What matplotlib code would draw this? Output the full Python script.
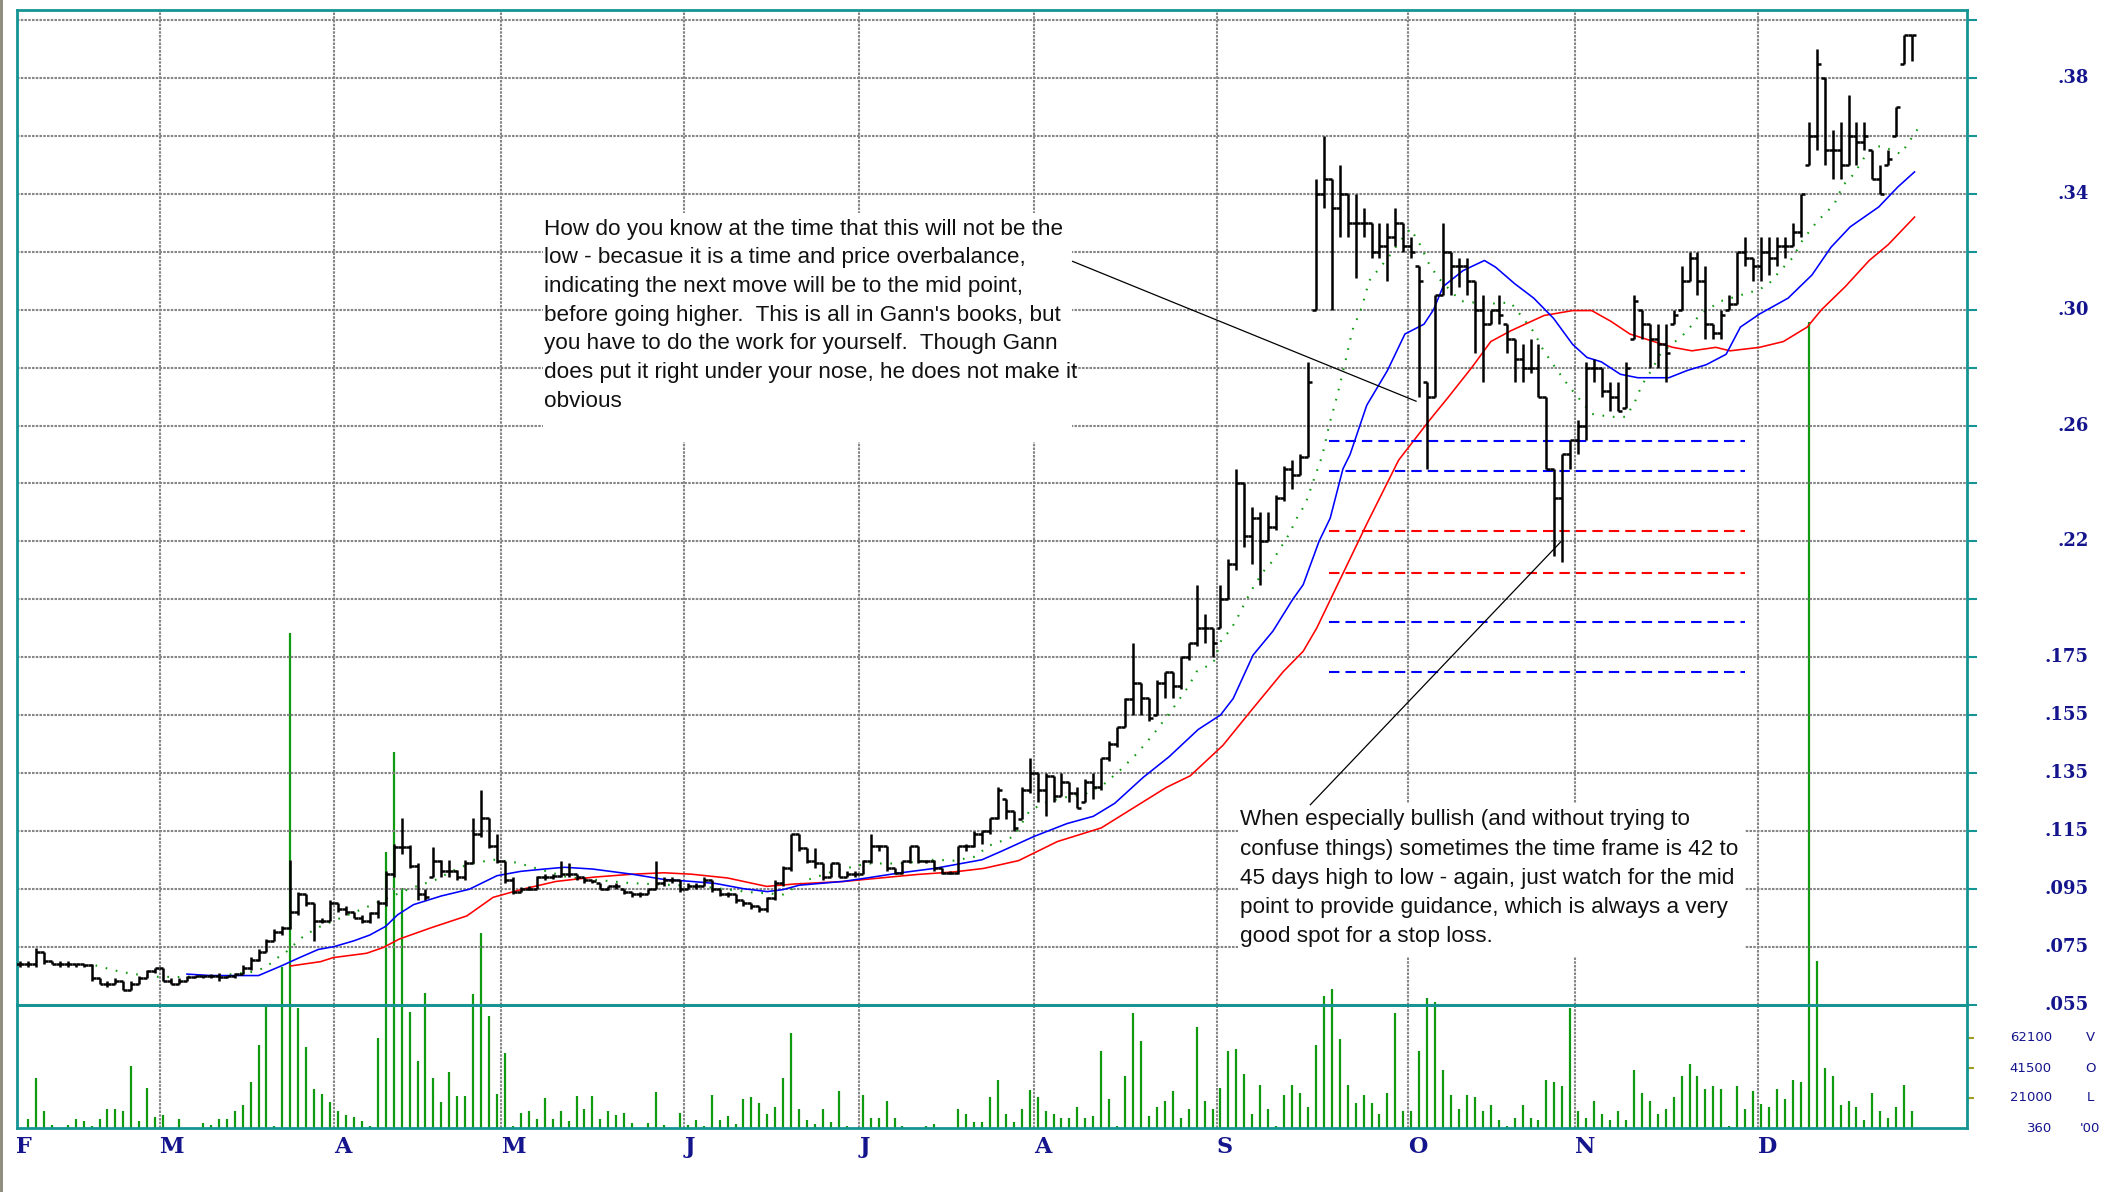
import numpy as np
import matplotlib
matplotlib.use("Agg")
import matplotlib.pyplot as plt
from matplotlib.collections import LineCollection
from matplotlib.patches import Rectangle
from matplotlib.transforms import blended_transform_factory

# ---- daily bars, Feb..Dec (price in $, one entry per trading day) ----
bar_high = [
    .075, .075, .0795, .078, .075, .075, .075, .074, .074, .074,
    .069, .068, .069, .068, .068, .070, .072, .0725, .0725, .069,
    .069, .070, .070, .070, .0705, .071, .070, .071, .0735, .0765,
    .079, .0825, .086, .087, .110, .099, .098, .095, .090, .096,
    .095, .094, .092, .091, .092, .096, .106, .1155, .1245, .115,
    .109, .100, .1145, .110, .110, .1065, .110, .1245, .134, .1245,
    .119, .1095, .104, .1005, .101, .1045, .105, .105, .1095, .109,
    .105, .104, .103, .102, .101, .102, .100, .099, .099, .100,
    .1095, .104, .104, .103, .102, .102, .104, .103, .100, .099,
    .098, .096, .095, .094, .097, .103, .108, .119, .119, .114,
    .114, .109, .109, .109, .106, .106, .110, .119, .115, .1147,
    .107, .1095, .1147, .1147, .110, .110, .107, .106, .1147, .1155,
    .120, .120, .1245, .135, .131, .127, .135, .145, .140, .140,
    .139, .140, .137, .135, .138, .140, .145, .151, .156, .166,
    .185, .171, .166, .172, .175, .175, .180, .185, .205, .195,
    .190, .205, .214, .245, .240, .232, .230, .230, .236, .246,
    .248, .250, .282, .345, .360, .345, .350, .340, .340, .335,
    .330, .330, .330, .335, .330, .325, .315, .275, .305, .330,
    .320, .318, .318, .310, .305, .300, .305, .295, .290, .288,
    .290, .288, .270, .245, .250, .255, .262, .282, .283, .280,
    .275, .275, .282, .305, .300, .295, .295, .295, .300, .315,
    .320, .320, .315, .295, .300, .305, .320, .325, .318, .325,
    .325, .325, .325, .330, .340, .365, .390, .380, .362, .365,
    .374, .365, .365, .355, .350, .355, .370, .395, .395,
]
bar_low = [
    .073, .073, .073, .074, .074, .073, .073, .073, .073, .068,
    .067, .066, .067, .065, .065, .067, .069, .071, .068, .067,
    .067, .068, .069, .069, .069, .068, .069, .069, .0705, .072,
    .075, .078, .082, .084, .086, .091, .094, .082, .088, .089,
    .092, .091, .090, .088, .088, .090, .094, .104, .112, .107,
    .096, .096, .104, .104, .104, .103, .103, .109, .118, .114,
    .109, .102, .098, .099, .0995, .100, .103, .1035, .104, .104,
    .103, .102, .102, .100, .0995, .100, .098, .097, .097, .098,
    .100, .101, .102, .099, .100, .100, .101, .099, .0975, .097,
    .095, .094, .093, .092, .092, .096, .101, .106, .113, .109,
    .107, .103, .104, .104, .104, .104, .105, .109, .113, .106,
    .105, .105, .109, .109, .109, .106, .105, .105, .105, .113,
    .1145, .1155, .119, .124, .124, .120, .124, .133, .130, .125,
    .130, .132, .130, .128, .130, .131, .134, .144, .149, .156,
    .160, .160, .158, .160, .166, .166, .169, .179, .184, .185,
    .180, .190, .200, .210, .218, .212, .205, .220, .224, .234,
    .238, .243, .249, .300, .335, .300, .325, .325, .311, .325,
    .318, .318, .310, .322, .320, .318, .270, .245, .270, .305,
    .305, .308, .305, .285, .275, .295, .295, .285, .275, .275,
    .278, .270, .245, .215, .213, .245, .250, .255, .275, .270,
    .265, .265, .266, .290, .290, .280, .280, .275, .295, .300,
    .310, .305, .290, .290, .290, .300, .302, .315, .310, .310,
    .312, .315, .318, .322, .325, .350, .355, .350, .345, .345,
    .350, .350, .355, .345, .340, .350, .360, .385, .386,
]
bar_close = [
    .074, .074, .078, .075, .074, .074, .074, .074, .0735, .069,
    .067, .067, .068, .065, .067, .069, .0715, .0725, .068, .067,
    .068, .0695, .070, .070, .070, .0695, .070, .0705, .0725, .0755,
    .078, .082, .085, .0865, .092, .098, .095, .089, .089, .095,
    .093, .092, .090, .0887, .0915, .095, .105, .1145, .1145, .108,
    .098, .097, .1095, .106, .106, .104, .109, .119, .1245, .1147,
    .1095, .103, .099, .100, .100, .104, .104, .1045, .105, .105,
    .104, .103, .1025, .100, .101, .101, .099, .098, .098, .100,
    .102, .103, .103, .100, .101, .101, .103, .100, .098, .098,
    .096, .095, .094, .093, .0967, .102, .107, .119, .114, .1095,
    .109, .104, .109, .104, .105, .105, .1095, .1147, .1147, .107,
    .1055, .1095, .1147, .1095, .1095, .107, .1055, .1055, .1147, .1147,
    .119, .120, .1245, .134, .127, .121, .134, .140, .134, .139,
    .132, .137, .133, .128, .137, .135, .145, .150, .156, .1657,
    .171, .166, .159, .171, .175, .170, .180, .185, .190, .190,
    .185, .200, .212, .240, .222, .228, .220, .225, .235, .245,
    .243, .249, .275, .340, .345, .335, .340, .330, .330, .330,
    .320, .322, .325, .330, .322, .320, .310, .270, .305, .320,
    .315, .315, .310, .300, .295, .300, .298, .290, .283, .280,
    .280, .270, .245, .235, .250, .255, .260, .280, .280, .272,
    .270, .265, .280, .303, .295, .290, .288, .285, .298, .310,
    .318, .310, .295, .292, .298, .302, .320, .318, .315, .320,
    .318, .322, .322, .327, .340, .360, .385, .355, .355, .350,
    .360, .358, .360, .345, .340, .352, .370, .395, .395,
]
# volume in thousands of shares
volume_k = [
    0.4, 6.5, 35, 12, 2.2, 0.4, 2.2, 6.5, 5, 1.5,
    6.5, 13.6, 13.6, 12, 43, 5, 28, 8, 9, 0.4,
    6.5, 0.4, 0.4, 3.8, 2.2, 6.5, 6.5, 12, 16, 32,
    57, 85, 2, 111, 340, 83, 56, 27, 24, 18,
    12, 9.5, 8, 5, 2, 62, 190, 258, 165, 80,
    46, 93, 35, 18, 39, 22, 22, 92, 134, 77,
    24, 52, 2, 10.6, 12, 6.5, 21, 6.5, 12, 5,
    22, 13.6, 22, 6.5, 12, 9, 10.6, 3.8, 0.4, 3.8,
    25, 2.2, 0.4, 10.6, 2.2, 6.1, 1.7, 23, 6.1, 8.8,
    3.3, 20, 21.6, 17.5, 10.2, 14.8, 34.7, 65.8, 13.2, 6.1,
    3.3, 13.2, 4.5, 26, 1.7, 0.4, 23.2, 7.4, 7.4, 18.9,
    7.4, 1.7, 0.4, 0.4, 1.7, 3.3, 0.4, 0.4, 13.2, 10.2,
    4.5, 4.5, 21.6, 33, 10.2, 4.5, 13.2, 26.2, 21.6, 11.8,
    10.2, 7.4, 7.4, 14.8, 7.4, 8.8, 53, 20.3, 1.5, 35.8,
    79.5, 60, 8.8, 14.8, 18.9, 26, 7.4, 13.2, 69.7, 18.9,
    13.2, 28, 53, 54.3, 37.2, 10.2, 30.1, 13.2, 1.5, 23.2,
    30.1, 24.6, 14.8, 57, 91, 96, 61.2, 30.1, 17.5, 23.2,
    17.5, 10.2, 24.4, 79.5, 11.8, 11.8, 53, 89.5, 86.8, 40.4,
    23.2, 13.2, 23.2, 21.6, 11.8, 15.9, 6.1, 1.5, 7.4, 15.9,
    7.4, 6.1, 33, 31.7, 29, 82.7, 11.8, 7.4, 18.9, 10.2,
    6.1, 11.8, 6.1, 40.4, 24.6, 18.9, 10.2, 13.2, 21.6, 35.8,
    44.5, 35.8, 27.3, 29, 27.3, 1.5, 29, 13.2, 26, 16.6,
    14.8, 27.3, 20.3, 33, 31.7, 553, 115, 41.5, 35.8, 15.9,
    18.9, 14.8, 6.1, 24.6, 11.8, 7.4, 14.8, 30.1, 11.8,
]

month_labels = ["F", "M", "A", "M", "J", "J", "A", "S", "O", "N", "D"]
month_first_bar = [0, 18, 40, 61, 84, 106, 128, 151, 175, 196, 219]

# moving averages (bar index, price)
fast_ma_bar = [21, 24, 27, 30, 33, 35, 37.5, 39.5, 42, 44,
               46, 47.5, 49.5, 53, 56.5, 60, 63, 66, 68.5, 72,
               77, 81, 84.5, 87.5, 91, 94, 96, 98, 103.5, 106.5,
               110.5, 115, 118, 121, 123.5, 127.5, 131.7, 135, 137.7, 141.3,
               144.5, 148.2, 151, 152.6, 155.1, 157.6, 160.1, 161.4, 163.4, 164.8,
               166.4, 167.3, 169.4, 172, 174.2, 176.6, 177.8, 179, 181.5, 184.2,
               185.6, 188, 190.4, 192.9, 195.3, 197.1, 198.9, 201.3, 203.5, 207.4,
               209.7, 212.1, 214.6, 216.4, 218.8, 222.4, 225.4, 227.8, 230.2, 233.8,
               236.2, 238.3]
fast_ma = [.0705, .0700, .0700, .0700, .0735, .0760, .0790, .0800, .0820, .0840,
           .0870, .0910, .0945, .0975, .0998, .1045, .1060, .1068, .1074, .1068,
           .1050, .1032, .1025, .1018, .1000, .0990, .0997, .1012, .1025, .1037,
           .1054, .1070, .1085, .1100, .1130, .1180, .1225, .1250, .1295, .1385,
           .1455, .1550, .1600, .1657, .1807, .1890, .2000, .2050, .2200, .2280,
           .2450, .2500, .2670, .2790, .2916, .2950, .3000, .3080, .3135, .3170,
           .3147, .3090, .3040, .2970, .2880, .2835, .2820, .2777, .2765, .2765,
           .2790, .2810, .2846, .2940, .2985, .3040, .3120, .3216, .3286, .3355,
           .3424, .3476]
slow_ma_bar = [34, 37.8, 39.4, 43.6, 45.7, 47.7, 51.7, 56.2, 59.5, 63,
               67.4, 72.2, 77, 81, 84.5, 89, 93.9, 97.3, 103.6, 108.2,
               112.8, 117.5, 121.2, 125.6, 130.5, 136, 140.1, 144.2, 147.2, 151.3,
               154.7, 158.9, 161.4, 163.1, 165.2, 169.4, 173.4, 177.2, 179.6, 182.6,
               185, 187.5, 191.7, 195.3, 197.7, 200.1, 202.5, 205.5, 207.9, 210.3,
               213.3, 215.1, 218.8, 221.8, 224.8, 226.6, 229.6, 232.6, 235, 238.3]
slow_ma = [.0733, .0748, .0762, .0777, .0797, .0826, .0865, .0906, .0970, .0997,
           .1025, .1040, .1050, .1055, .1050, .1037, .1008, .1016, .1025, .1037,
           .1049, .1058, .1070, .1097, .1163, .1210, .1280, .1350, .1390, .1495,
           .1610, .1750, .1820, .1900, .2020, .2260, .2480, .2615, .2696, .2800,
           .2890, .2927, .2980, .2997, .2997, .2960, .2916, .2890, .2870, .2858,
           .2870, .2858, .2870, .2890, .2940, .3000, .3080, .3170, .3225, .3320]
lead_bar = [9.5, 12.6, 14.7, 16.8, 20, 25, 29.4, 31, 32.3, 33.3,
            35.4, 36.5, 37.8, 42.8, 49, 52.2, 55.4, 57.4, 59.6, 62.5,
            65, 68.8, 76.5, 85.7, 91.8, 96, 99, 102.3, 106.5, 110.7,
            115, 117.5, 120, 122, 125, 127, 129.2, 131.2, 134.2, 136.3,
            138.4, 140.5, 142.6, 144.9, 147, 148, 150.1, 151.2, 152.2, 153.2,
            154.3, 155.3, 156.4, 157.5, 158.5, 159.6, 160.6, 161.7, 162.7, 163.8,
            164.7, 165.7, 166.7, 167.6, 168.8, 169.7, 172.1, 173.4, 174.9, 176,
            177.2, 178.4, 181.2, 184.5, 187.5, 190.5, 191.4, 192.6, 194.7, 196,
            197.7, 200.1, 202, 203.1, 204, 205.2, 206.4, 209.1, 210.4, 211.3,
            214, 216.4, 218.8, 220, 221.4, 223, 224.2, 226.2, 227.2, 228.3,
            229.3, 230.4, 231.4, 232.4, 233.4, 234.4, 235.5, 236.6, 237.6, 238.7]
lead_line = [.0735, .0713, .0704, .0696, .0695, .0700, .0713, .0730, .0760, .0777,
             .0830, .0850, .0870, .0927, .1000, .1030, .1075, .1090, .1100, .1090,
             .1070, .1040, .1020, .1008, .0988, .0980, .1030, .1060, .1087, .1087,
             .1100, .1097, .1110, .1150, .1180, .1270, .1300, .1314, .1330, .1360,
             .1410, .1467, .1535, .1618, .1700, .1750, .1780, .1866, .1890, .1940,
             .2000, .2050, .2096, .2130, .2175, .2223, .2280, .2330, .2410, .2495,
             .2605, .2705, .2820, .2930, .3010, .3100, .3180, .3230, .3280, .3230,
             .3160, .3110, .3030, .3020, .3025, .2920, .2870, .2820, .2740, .2696,
             .2640, .2630, .2630, .2680, .2740, .2790, .2850, .2910, .2950, .2985,
             .3030, .3050, .3070, .3090, .3135, .3180, .3240, .3310, .3335, .3370,
             .3430, .3460, .3500, .3545, .3564, .3564, .3550, .3538, .3580, .3624]

# mid-point levels drawn across Oct-Nov
blue_levels = [0.2548, 0.2442, 0.1922, 0.1748]
red_levels = [0.2234, 0.2091]
level_from, level_to = 164.6, 217.0

# price scale: grid every 2c, labels as printed on the chart
price_grid = np.round(np.arange(0.06, 0.401, 0.02), 2)
price_labels = {0.38: ".38", 0.34: ".34", 0.30: ".30", 0.26: ".26", 0.22: ".22",
                0.18: ".175", 0.16: ".155", 0.14: ".135", 0.12: ".115",
                0.10: ".095", 0.08: ".075", 0.06: ".055"}
vol_ticks = [21.0, 41.5, 62.1]
vol_labels = ["21000", "41500", "62100"]
vol_letters = ["L", "O", "V"]

note1 = ["How do you know at the time that this will not be the",
         "low - becasue it is a time and price overbalance,",
         "indicating the next move will be to the mid point,",
         "before going higher.  This is all in Gann's books, but",
         "you have to do the work for yourself.  Though Gann",
         "does put it right under your nose, he does not make it",
         "obvious"]
note2 = ["When especially bullish (and without trying to",
         "confuse things) sometimes the time frame is 42 to",
         "45 days high to low - again, just watch for the mid",
         "point to provide guidance, which is always a very",
         "good spot for a stop loss."]
pointer1 = [(132.4, 0.3167), (175.6, 0.2684)]
pointer2 = [(162.3, 0.129), (193.8, 0.2198)]

assert len(bar_high) == len(bar_low) == len(bar_close) == len(volume_k)

# ---- layout ----
W, H, DPI = 2101, 1192, 100
TEAL = "#159494"
NAVY = "#14148c"
GRID = "#868686"
GREEN = "#109a10"
OLIVE = "#a0a020"


def fx(px):
    return px / W


def fy(py):
    return 1 - py / H


fig = plt.figure(figsize=(W / DPI, H / DPI), dpi=DPI)
fig.patch.set_facecolor("white")
fig.patches.append(Rectangle((0, 0), fx(3), 1, transform=fig.transFigure,
                             facecolor="#8f8f80", edgecolor="none"))

LEFT, RIGHT, TOP, MID, BOTTOM = 17, 1967, 9.5, 1004.5, 1128
ax_vol = fig.add_axes([fx(LEFT), fy(BOTTOM), (RIGHT - LEFT) / W, (BOTTOM - MID) / H])
ax = fig.add_axes([fx(LEFT), fy(MID), (RIGHT - LEFT) / W, (MID - TOP) / H])
ax.patch.set_alpha(0)

n = len(bar_close)
x = np.arange(n)
month_lines = np.array(month_first_bar[1:]) - 0.45
grid_kw = dict(color=GRID, lw=1.5, ls=(0, (1.2, 0.6)))

for a in (ax, ax_vol):
    a.set_xlim(-0.38, 244.9)
    a.set_xticks(month_lines)
    a.tick_params(axis="x", length=0, labelbottom=False)
    a.set_axisbelow(True)
    for s in a.spines.values():
        s.set_color(TEAL)
        s.set_linewidth(2.0)

# price panel
ax.set_ylim(0.06, 0.4037)
ax.set_yticks(price_grid)
ax.grid(True, **grid_kw)
ax.tick_params(axis="y", left=False, right=True, labelleft=False, labelright=False,
               direction="out", length=7, width=1.5, color=TEAL)
ytrans = blended_transform_factory(fig.transFigure, ax.transData)
for val, lab in price_labels.items():
    ax.text(fx(2089), val, lab, transform=ytrans, ha="right", va="center",
            family="DejaVu Serif", weight="bold", fontsize=13, color=NAVY)

# volume panel
ax_vol.set_ylim(0.36, 85.08)
ax_vol.set_yticks(vol_ticks)
ax_vol.grid(True, axis="x", **grid_kw)
ax_vol.tick_params(axis="y", left=False, right=True, labelleft=False, labelright=False,
                   direction="out", length=5, width=1.5, color=OLIVE)
vtrans = blended_transform_factory(fig.transFigure, ax_vol.transData)
for val, lab, let in zip(vol_ticks, vol_labels, vol_letters):
    ax_vol.text(fx(2052), val, lab, transform=vtrans, ha="right", va="center",
                fontsize=9.5, color=NAVY)
    ax_vol.text(fx(2090), val, let, transform=vtrans, ha="center", va="center",
                fontsize=9.5, color=NAVY)
ax_vol.text(fx(2052), 0.36, "360", transform=vtrans, ha="right", va="center",
            fontsize=9.5, color=NAVY)
ax_vol.text(fx(2090), 0.36, "'00", transform=vtrans, ha="center", va="center",
            fontsize=9.5, color=NAVY)
ax_vol.vlines(x, 0.36, volume_k, colors=GREEN, lw=1.6, clip_on=False, zorder=2)

mtrans = blended_transform_factory(ax_vol.transData, fig.transFigure)
for b, lab in zip(month_first_bar, month_labels):
    ax_vol.text(b - 0.45, fy(1147), lab, transform=mtrans, ha="left", va="center",
                family="DejaVu Serif", weight="bold", fontsize=16, color=NAVY,
                clip_on=False)

# moving averages and levels
ax.plot(lead_bar, lead_line, color=GREEN, lw=1.5, ls=(0, (0.8, 4.2)), zorder=2)
ax.plot(slow_ma_bar, slow_ma, color="#ff0000", lw=1.15, zorder=2)
ax.plot(fast_ma_bar, fast_ma, color="#0000ff", lw=1.15, zorder=2)
ax.hlines(blue_levels, level_from, level_to, colors="#0000ff", lw=1.5,
          linestyles=[(0, (5.0, 2.9))], zorder=2)
ax.hlines(red_levels, level_from, level_to, colors="#ff0000", lw=1.5,
          linestyles=[(0, (5.0, 2.9))], zorder=2)

# OHLC-style bars: open tick on the left (previous close), close tick on the right
opens = np.clip(np.r_[bar_close[0], bar_close[:-1]], bar_low, bar_high)
segs = []
for i in range(n):
    segs.append([(x[i], bar_low[i]), (x[i], bar_high[i])])
    segs.append([(x[i] - 0.5, opens[i]), (x[i], opens[i])])
    segs.append([(x[i], bar_close[i]), (x[i] + 0.5, bar_close[i])])
ax.add_collection(LineCollection(segs, colors="black", linewidths=1.8, zorder=3))

# annotation boxes
for (x0, y0, x1, y1) in [(543, 213, 1072, 442), (1238, 803, 1745, 957)]:
    ax.add_patch(Rectangle((fx(x0), fy(y1)), fx(x1) - fx(x0), (y1 - y0) / H,
                           transform=fig.transFigure, facecolor="white",
                           edgecolor="none", zorder=4))
for k, line in enumerate(note1):
    fig.text(fx(544), fy(229 + k * 28.7), line, ha="left", va="center",
             family="Liberation Sans", fontsize=16.2, color="#111111", zorder=5)
for k, line in enumerate(note2):
    fig.text(fx(1240), fy(820 + k * 29.2), line, ha="left", va="center",
             family="Liberation Sans", fontsize=16.2, color="#111111", zorder=5)

for p in (pointer1, pointer2):
    ax.plot([p[0][0], p[1][0]], [p[0][1], p[1][1]], color="black", lw=0.9, zorder=6)

fig.savefig("out.png", dpi=DPI)
